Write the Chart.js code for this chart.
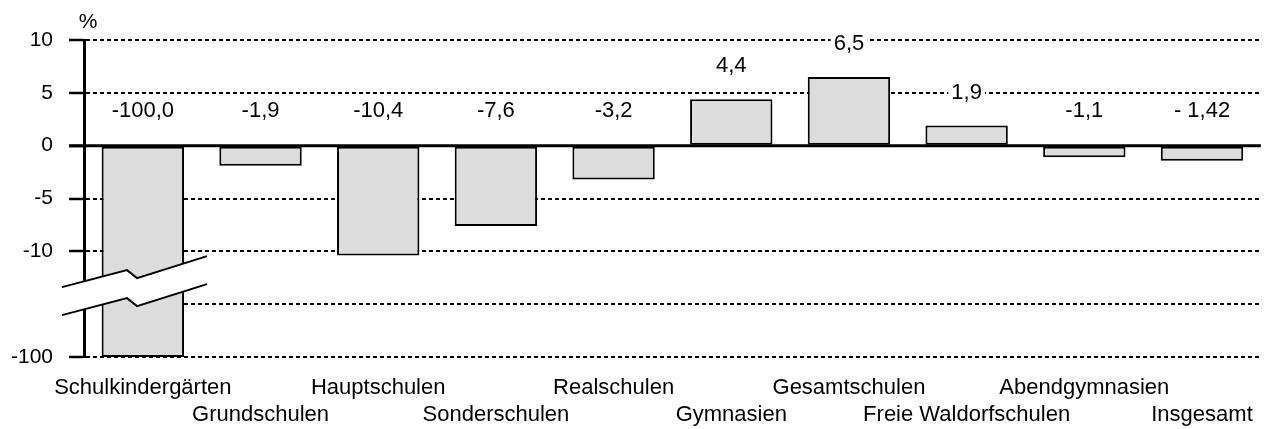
<!DOCTYPE html>
<html>
<head>
<meta charset="utf-8">
<script src="https://cdn.jsdelivr.net/npm/chart.js@4/dist/chart.umd.min.js"></script>
<style>
  html, body { margin: 0; padding: 0; background: #fff; }
  #wrap { width: 1270px; height: 429px; position: relative; }
</style>
</head>
<body>
<div id="wrap"><canvas id="c" width="1270" height="429"></canvas></div>
<script>
// ---- data ----
const categories = ["Schulkindergärten", "Grundschulen", "Hauptschulen", "Sonderschulen", "Realschulen",
                    "Gymnasien", "Gesamtschulen", "Freie Waldorfschulen", "Abendgymnasien", "Insgesamt"];
const changePercent = [-100.0, -1.9, -10.4, -7.6, -3.2, 4.4, 6.5, 1.9, -1.1, -1.42];
const valueLabels = ["-100,0", "-1,9", "-10,4", "-7,6", "-3,2", "4,4", "6,5", "1,9", "-1,1", "- 1,42"];
const yTickValues = [-20, -15, -10, -5, 0, 5, 10];
const yTickLabels = ["-100", "", "-10", "-5", "0", "5", "10"];
const axisBreakMin = -20;   // axis position standing for -100 (broken axis)
const negLabelLevel = 3.3;  // level at which labels of negative bars are written

const FONT = '"Liberation Sans", Arial, sans-serif';
const plottedValues = changePercent.map(v => Math.max(v, axisBreakMin));

const decorations = {
  id: 'decorations',
  afterDatasetsDraw(chart) {
    const {ctx, chartArea} = chart;
    const y = chart.scales.y;
    const meta = chart.getDatasetMeta(0);
    // zero line
    const y0 = y.getPixelForValue(0);
    ctx.save();
    ctx.strokeStyle = '#000';
    ctx.lineWidth = 3;
    ctx.beginPath();
    ctx.moveTo(chartArea.left - 15, y0);
    ctx.lineTo(chartArea.right, y0);
    ctx.stroke();

    // axis break symbol
    const ax = chartArea.left;
    const ay = y.getPixelForValue(-12.5);
    const up = [[-22, 9.4], [43, -7.6], [53, 0.4], [123, -21.6]];
    const gap = 28;
    ctx.fillStyle = '#fff';
    ctx.beginPath();
    up.forEach((p, i) => { const fx = ax + p[0], fy = ay + p[1]; i ? ctx.lineTo(fx, fy) : ctx.moveTo(fx, fy); });
    for (let i = up.length - 1; i >= 0; i--) ctx.lineTo(ax + up[i][0], ay + up[i][1] + gap);
    ctx.closePath();
    ctx.fill();
    ctx.lineWidth = 2;
    ctx.lineJoin = 'miter';
    [0, gap].forEach(off => {
      ctx.beginPath();
      up.forEach((p, i) => { const fx = ax + p[0], fy = ay + p[1] + off; i ? ctx.lineTo(fx, fy) : ctx.moveTo(fx, fy); });
      ctx.stroke();
    });

    // value labels
    ctx.font = '22px ' + FONT;
    ctx.textAlign = 'center';
    ctx.textBaseline = 'middle';
    meta.data.forEach((el, i) => {
      const v = changePercent[i];
      const ty = v < 0 ? y.getPixelForValue(negLabelLevel) : el.y - 33;
      const txt = valueLabels[i];
      const w = ctx.measureText(txt).width;
      ctx.fillStyle = '#fff';
      ctx.fillRect(el.x - w / 2 - 3, ty - 11, w + 6, 22);
      ctx.fillStyle = '#000';
      ctx.fillText(txt, el.x, ty);
    });

    // unit label
    ctx.font = '21px ' + FONT;
    ctx.fillText('%', chartArea.left + 4, chartArea.top - 18);
    ctx.restore();
  }
};

new Chart(document.getElementById('c'), {
  type: 'bar',
  data: {
    labels: categories,
    datasets: [{
      data: plottedValues,
      backgroundColor: '#dcdcdc',
      borderColor: '#000',
      borderWidth: 2,
      borderSkipped: false,
      barPercentage: 0.70,
      categoryPercentage: 1.0
    }]
  },
  options: {
    responsive: false,
    animation: false,
    events: [],
    layout: { padding: { left: 0, right: 5, top: 40, bottom: 0 } },
    plugins: { legend: { display: false }, tooltip: { enabled: false }, title: { display: false } },
    scales: {
      x: {
        grid: { display: false, drawTicks: false },
        border: { display: false },
        afterFit(s) { s.height = 72; },
        ticks: {
          color: '#000',
          padding: 17,
          maxRotation: 0,
          autoSkip: false,
          font: { family: FONT, size: 22, lineHeight: 1.25 },
          callback(val, i) { return i % 2 === 0 ? [categories[i]] : ['', categories[i]]; }
        }
      },
      y: {
        min: axisBreakMin,
        max: 10,
        afterFit(s) { s.width = 84; },
        afterBuildTicks(s) { s.ticks = yTickValues.map(v => ({ value: v })); },
        grid: {
          color: ctx => (ctx.tick && ctx.tick.value === 0) ? 'rgba(0,0,0,0)' : '#000',
          lineWidth: 2,
          drawTicks: true,
          tickLength: 15,
          tickWidth: 2.5,
          tickColor: ctx => (ctx.tick && ctx.tick.value === -15) ? 'rgba(0,0,0,0)' : '#000'
        },
        border: { display: true, color: '#000', width: 3, dash: [4, 3] },
        ticks: {
          color: '#000',
          padding: 16,
          font: { family: FONT, size: 21 },
          callback(val) { const k = yTickValues.indexOf(val); return k >= 0 ? yTickLabels[k] : ''; }
        }
      }
    }
  },
  plugins: [decorations]
});
</script>
</body>
</html>
